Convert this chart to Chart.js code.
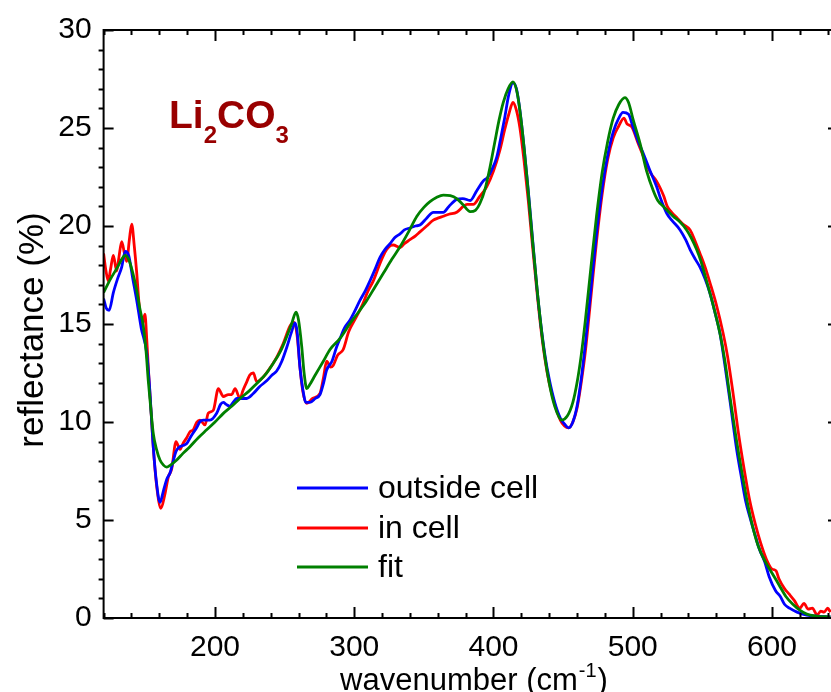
<!DOCTYPE html>
<html>
<head>
<meta charset="utf-8">
<script src="https://cdn.jsdelivr.net/npm/chart.js@4/dist/chart.umd.min.js"></script>
<style>
  html, body { margin: 0; padding: 0; background: #fff; }
  #wrap { width: 831px; height: 692px; }
</style>
</head>
<body>
<div id="wrap"><canvas id="chart" width="831" height="692"></canvas></div>
<script>
// reflectance spectra of Li2CO3 (wavenumber in cm-1, reflectance in %)
const outsideX = [120, 122, 124, 127, 130, 133, 135.5, 138, 141, 143.8, 147, 151, 153, 155.7, 158, 160.5, 163, 165.5, 167.7, 170,
  172, 174.9, 177, 179.7, 183, 186.8, 189, 191.6, 196.4, 201.2, 204, 206, 208, 210.8, 213, 215.6, 219, 222.8, 227.5, 232,
  237.1, 241, 244.3, 248, 251.5, 255, 257.5, 259, 261, 263, 265.3, 268.2, 272, 275.4, 278, 280.2, 284, 287.4, 290, 293,
  297, 300, 304.1, 308, 311.3, 315, 318.5, 322, 325.7, 329, 332.9, 336, 340, 344, 347.2, 352, 356.8, 360, 364, 368,
  373.6, 378, 383.3, 388, 392.7, 396, 399, 402.3, 405, 408, 411, 414, 416.5, 419, 422, 425, 428, 431, 434, 437,
  440, 444, 448, 451, 454, 457, 460, 463, 466, 470, 474, 478, 482, 486, 490, 493, 497, 500, 504, 507.6,
  512, 517.2, 520, 524.4, 528, 534, 538, 541.2, 545, 548.3, 552, 555.5, 559, 562.7, 566, 570, 574.7, 578, 581, 584.8,
  588, 591, 594.9, 598, 602.5, 606, 609, 612.6, 618, 625, 632, 642];
const outsideY = [16.3, 15.8, 15.7, 16.6, 17.3, 17.9, 18.7, 18.5, 17.3, 16.2, 14.8, 13.5, 11.8, 8.7, 6.9, 5.9, 6.5, 7.1, 7.4, 8.0,
  8.5, 8.74, 8.8, 8.9, 9.3, 9.7, 10.0, 10.1, 10.1, 10.45, 10.9, 11.0, 10.9, 10.8, 11.0, 11.2, 11.2, 11.2, 11.45, 11.8,
  12.1, 12.4, 12.6, 13.1, 13.8, 14.6, 15.05, 14.6, 12.8, 11.7, 11.0, 11.0, 11.2, 11.4, 12.0, 12.65, 13.1, 13.84, 14.3, 14.8,
  15.2, 15.6, 16.2, 16.7, 17.2, 17.8, 18.4, 18.8, 19.1, 19.4, 19.6, 19.8, 19.9, 20.0, 20.05, 20.4, 20.7, 20.7, 20.7, 21.0,
  21.36, 21.4, 21.3, 21.8, 22.3, 22.5, 22.9, 23.5, 24.4, 25.5, 26.7, 27.3, 27.0, 25.9, 24.0, 21.8, 19.4, 17.0, 15.0, 13.4,
  12.2, 11.0, 10.2, 9.9, 9.7, 10.0, 10.8, 12.2, 14.0, 16.8, 19.6, 21.9, 23.6, 24.8, 25.5, 25.8, 25.7, 25.1, 24.3, 23.7,
  22.9, 22.0, 21.4, 20.65, 20.3, 19.8, 19.3, 18.8, 18.3, 17.9, 17.3, 16.56, 15.6, 14.5, 13.0, 11.0, 8.57, 7.2, 6.0, 4.98,
  4.2, 3.5, 2.84, 2.1, 1.4, 1.1, 0.7, 0.5, 0.3, 0.15, 0.1, 0.05];

const inCellX = [120, 121.5, 123.4, 125, 127, 129.4, 131, 133, 135, 136.6, 138.5, 140.2, 142, 143.8, 145.5, 147.4, 149.7, 151, 152.1, 155.7,
  158, 161.2, 164, 166.5, 168.9, 172, 174.9, 177, 179.7, 182, 184.4, 187, 189.2, 192.8, 195.2, 198.8, 202.4, 206, 209.6, 212,
  214.4, 218, 220, 222.8, 225, 227.5, 230, 234.7, 239, 244.3, 249, 253.9, 256.7, 259, 261, 263, 265.9, 270, 275.4, 278,
  280.2, 283, 285, 288, 292.1, 296, 301.8, 306, 310, 313.7, 318, 321, 323.3, 326, 328, 332.9, 336, 340, 344, 347.2,
  352, 356.8, 360, 364, 368, 373.6, 378.3, 381, 385.5, 390, 395.1, 400, 404.7, 408, 411, 414, 416.5, 419, 422, 425,
  428, 431, 434, 437, 440, 444, 448, 451, 454, 457, 460, 463, 466, 470, 474, 478, 482, 486, 490, 493.7,
  496, 499.2, 504, 508, 512.9, 517, 520, 522.4, 524.8, 528, 532, 536, 541.2, 545, 548.3, 552, 555.5, 560, 565, 568,
  572, 576, 580, 584, 588, 592, 596, 600, 603, 605, 609, 612.6, 616, 620, 623, 626, 629, 632.5, 635, 637.5,
  640, 642];
const inCellY = [18.6, 17.8, 17.2, 17.8, 18.5, 17.7, 18.4, 19.2, 18.6, 18.2, 19.3, 20.1, 19.0, 17.6, 16.0, 14.9, 15.5, 14.2, 12.8, 8.7,
  6.8, 5.6, 6.3, 7.2, 7.6, 9.0, 8.6, 8.9, 9.2, 9.5, 9.6, 10.0, 10.1, 9.85, 10.45, 10.6, 11.7, 11.3, 11.4, 11.4,
  11.7, 11.2, 11.6, 12.05, 12.4, 12.5, 12.05, 12.3, 12.7, 13.3, 14.0, 14.9, 15.1, 14.4, 12.8, 11.6, 10.95, 11.2, 11.46, 12.3,
  13.1, 12.8, 12.9, 13.4, 13.7, 14.6, 15.4, 16.0, 16.7, 17.2, 18.0, 18.5, 18.8, 19.0, 19.03, 18.9, 19.1, 19.3, 19.5, 19.7,
  20.0, 20.3, 20.4, 20.5, 20.6, 20.7, 21.0, 21.1, 21.1, 21.5, 22.0, 22.8, 23.9, 24.9, 25.7, 26.3, 25.9, 25.0, 23.3, 21.3,
  19.0, 16.8, 14.8, 13.2, 12.0, 10.9, 10.1, 9.8, 9.7, 10.0, 10.7, 12.0, 13.6, 16.4, 19.2, 21.6, 23.4, 24.5, 25.1, 25.5,
  25.2, 25.07, 24.2, 23.5, 22.7, 22.3, 21.9, 21.5, 21.0, 20.7, 20.4, 20.1, 19.8, 19.2, 18.6, 17.9, 17.1, 16.0, 14.5, 13.4,
  11.5, 9.4, 7.6, 6.0, 4.8, 3.8, 3.0, 2.5, 2.4, 2.0, 1.5, 1.2, 0.9, 0.5, 0.75, 0.45, 0.5, 0.15, 0.35, 0.3,
  0.5, 0.3];

const fitX = [120, 125, 130, 133, 135.4, 138, 141, 143.8, 146, 148.5, 150.5, 152.1, 154, 155.7, 158, 160.5, 163, 165.3, 168, 172.5,
  177, 182, 188, 194, 200, 206, 212, 218, 224, 230, 236, 241.9, 247, 251.5, 255, 258.2, 260, 262.3, 264, 265.9,
  268, 272, 277.8, 282.6, 289.8, 297, 303, 309, 315, 321, 327, 333, 339, 345, 350, 354.4, 359, 364, 369, 373.6,
  378, 383.3, 387, 390.3, 394, 397.5, 401, 404, 407, 410.5, 414, 417, 420, 424, 428, 432, 436, 440, 444, 449,
  453, 457, 460, 463, 466, 470, 474, 478, 482, 486, 490, 494.4, 497, 500.4, 505.3, 510, 514.8, 518, 522, 529,
  534, 538.7, 542, 545.9, 549, 553, 558, 562.7, 566, 570, 574, 578, 582.3, 586, 590, 595, 600, 605, 610, 615,
  620, 625, 632, 642];
const fitY = [16.6, 17.3, 17.9, 18.3, 18.5, 18.3, 17.6, 16.7, 15.8, 14.9, 13.6, 12.1, 10.6, 9.4, 8.6, 8.06, 7.8, 7.7, 7.8, 8.06,
  8.4, 8.74, 9.2, 9.6, 10.0, 10.44, 10.8, 11.2, 11.55, 11.97, 12.4, 13.0, 13.6, 14.35, 15.0, 15.6, 15.2, 13.84, 12.5, 11.7,
  11.9, 12.4, 13.1, 13.7, 14.27, 15.03, 15.6, 16.2, 16.9, 17.6, 18.3, 18.95, 19.7, 20.5, 20.95, 21.24, 21.45, 21.58, 21.55, 21.4,
  21.1, 20.73, 20.8, 21.16, 21.9, 23.0, 24.3, 25.4, 26.3, 27.0, 27.35, 26.8, 25.3, 22.5, 19.3, 16.3, 13.8, 12.0, 10.8, 10.1,
  10.3, 11.0, 12.0, 13.4, 15.2, 17.9, 20.5, 22.7, 24.3, 25.5, 26.2, 26.55, 26.3, 25.4, 24.2, 22.8, 21.8, 21.3, 21.0, 20.5,
  20.2, 19.8, 19.4, 18.8, 18.2, 17.2, 15.9, 14.5, 13.2, 11.2, 9.3, 7.6, 5.9, 4.7, 3.7, 2.9, 2.3, 1.7, 1.1, 0.7,
  0.4, 0.2, 0.1, 0.05];

const seriesLabels = ['outside cell', 'in cell', 'fit'];
const seriesColors = ['#0000ff', '#ff0000', '#008000'];
const xTicks = [200, 300, 400, 500, 600];
const yTicks = [0, 5, 10, 15, 20, 25, 30];

const FONT = '"Liberation Sans", Arial, sans-serif';

function toPoints(xs, ys) {
    return xs.map((x, i) => ({ x: x, y: ys[i] }));
}

// frame, inward ticks, legend, labels
const decorations = {
    id: 'decorations',
    afterDraw(chart) {
        const { ctx, chartArea: a, scales: { x, y } } = chart;
        ctx.save();
        ctx.strokeStyle = '#000';
        ctx.lineWidth = 2;
        ctx.lineCap = 'butt';

        ctx.beginPath();
        ctx.moveTo(a.right + 2, a.top);
        ctx.lineTo(a.left, a.top);
        ctx.lineTo(a.left, a.bottom);
        ctx.lineTo(a.right + 2, a.bottom);
        ctx.stroke();

        ctx.beginPath();
        for (let v = 120; v <= 640; v += 20) {
            const px = Math.round(x.getPixelForValue(v)) + 0.5;
            const len = v % 100 === 0 ? 11 : 5;
            ctx.moveTo(px, a.bottom);
            ctx.lineTo(px, a.bottom - len);
            ctx.moveTo(px, a.top);
            ctx.lineTo(px, a.top + len);
        }
        for (let v = 0; v <= 30; v += 1) {
            const py = Math.round(y.getPixelForValue(v)) + 0.5;
            if (v % 5 === 0) {
                ctx.moveTo(a.left, py);
                ctx.lineTo(a.left + 10, py);
                if (v > 0 && v < 30) {
                    ctx.moveTo(a.right, py);
                    ctx.lineTo(a.right - 3, py);
                }
            } else {
                ctx.moveTo(a.left - 5, py);
                ctx.lineTo(a.left, py);
            }
        }
        ctx.stroke();

        // legend
        ctx.font = '32px ' + FONT;
        ctx.textBaseline = 'middle';
        ctx.fillStyle = '#000';
        const legendY = [488, 528, 567];
        seriesLabels.forEach((label, i) => {
            ctx.strokeStyle = seriesColors[i];
            ctx.lineWidth = 3;
            ctx.beginPath();
            ctx.moveTo(297, legendY[i]);
            ctx.lineTo(368, legendY[i]);
            ctx.stroke();
            ctx.fillText(label, 378, legendY[i] + 1);
        });

        // compound label
        ctx.fillStyle = '#990000';
        ctx.textBaseline = 'alphabetic';
        let cx = 169;
        const parts = [['Li', 39, 128], ['2', 24, 143], ['CO', 39, 128], ['3', 24, 143]];
        parts.forEach(([t, size, base]) => {
            ctx.font = 'bold ' + size + 'px ' + FONT;
            ctx.fillText(t, cx, base);
            cx += ctx.measureText(t).width;
        });

        // x title with superscript
        ctx.fillStyle = '#000';
        ctx.font = '31px ' + FONT;
        const t1 = 'wavenumber (cm', t2 = '-1', t3 = ')';
        const w1 = ctx.measureText(t1).width;
        ctx.font = '20px ' + FONT;
        const w2 = ctx.measureText(t2).width;
        ctx.font = '31px ' + FONT;
        const w3 = ctx.measureText(t3).width;
        let tx = 473 - (w1 + w2 + w3) / 2;
        ctx.fillText(t1, tx, 690);
        tx += w1;
        ctx.font = '20px ' + FONT;
        ctx.fillText(t2, tx + 1, 677);
        tx += w2 + 2;
        ctx.font = '31px ' + FONT;
        ctx.fillText(t3, tx, 690);

        // y title
        ctx.save();
        ctx.font = '35px ' + FONT;
        ctx.translate(43, 330);
        ctx.rotate(-Math.PI / 2);
        ctx.textAlign = 'center';
        ctx.textBaseline = 'alphabetic';
        ctx.fillText('reflectance (%)', 0, 0);
        ctx.restore();

        ctx.restore();
    }
};

new Chart(document.getElementById('chart'), {
    type: 'line',
    data: {
        datasets: [
            { label: seriesLabels[0], data: toPoints(outsideX, outsideY), borderColor: seriesColors[0], order: 2 },
            { label: seriesLabels[1], data: toPoints(inCellX, inCellY), borderColor: seriesColors[1], order: 3 },
            { label: seriesLabels[2], data: toPoints(fitX, fitY), borderColor: seriesColors[2], order: 1 }
        ]
    },
    options: {
        responsive: false,
        animation: false,
        devicePixelRatio: 1,
        layout: { padding: { top: 29.5, right: 0, left: 0, bottom: 0 } },
        elements: {
            point: { radius: 0 },
            line: { borderWidth: 2.8, cubicInterpolationMode: 'monotone' }
        },
        plugins: {
            legend: { display: false },
            tooltip: { enabled: false }
        },
        scales: {
            x: {
                type: 'linear',
                min: 120,
                max: 642.4,
                grid: { display: false, drawTicks: false },
                border: { display: false },
                ticks: { font: { size: 30, family: FONT }, color: '#000', padding: 12, maxRotation: 0 },
                afterBuildTicks: (scale) => { scale.ticks = xTicks.map(v => ({ value: v })); },
                afterFit: (scale) => { scale.height = 74; }
            },
            y: {
                min: 0,
                max: 30,
                grid: { display: false, drawTicks: false },
                border: { display: false },
                ticks: { font: { size: 30, family: FONT }, color: '#000', padding: 12 },
                afterBuildTicks: (scale) => { scale.ticks = yTicks.map(v => ({ value: v })); },
                afterFit: (scale) => { scale.width = 103.6; }
            }
        }
    },
    plugins: [decorations]
});
</script>
</body>
</html>
